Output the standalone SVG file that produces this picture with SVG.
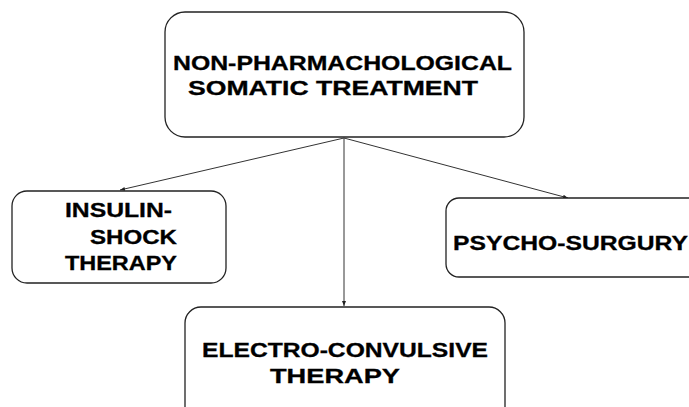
<svg xmlns="http://www.w3.org/2000/svg" width="689" height="407" viewBox="0 0 689 407">
<defs>
<style>
.box{fill:#fff;stroke:#222;stroke-width:1.3}
.lbl{font-family:"Liberation Sans",Arial,sans-serif;font-weight:bold;font-size:20px;fill:#000;stroke:#000;stroke-width:0.3}
.con{stroke:#333;stroke-width:1;fill:none;marker-end:url(#ah)}
</style>
<marker id="ah" markerWidth="6" markerHeight="6" refX="5" refY="3" orient="auto" markerUnits="userSpaceOnUse">
<path d="M0,1 L5,3 L0,5 Z" fill="#222"/>
</marker>
</defs>
<rect width="689" height="407" fill="#fff"/>
<g id="connectors">
<line class="con" x1="344" y1="138" x2="120" y2="190"/>
<line class="con" x1="344" y1="138" x2="568" y2="198"/>
<line class="con" x1="344" y1="138" x2="344" y2="306"/>
</g>
<g id="root">
<rect class="box" x="165" y="12" width="359" height="125" rx="20"/>
<text class="lbl" x="173" y="70" textLength="339" lengthAdjust="spacingAndGlyphs">NON-PHARMACHOLOGICAL</text>
<text class="lbl" x="188" y="95" textLength="290" lengthAdjust="spacingAndGlyphs">SOMATIC TREATMENT</text>
</g>
<g id="insulin">
<rect class="box" x="12" y="191" width="214" height="92" rx="15"/>
<text class="lbl" x="65" y="217" textLength="107" lengthAdjust="spacingAndGlyphs">INSULIN-</text>
<text class="lbl" x="90" y="244" textLength="87" lengthAdjust="spacingAndGlyphs">SHOCK</text>
<text class="lbl" x="65" y="270" textLength="112" lengthAdjust="spacingAndGlyphs">THERAPY</text>
</g>
<g id="psycho">
<rect class="box" x="446" y="198" width="270" height="79" rx="13"/>
<text class="lbl" x="453" y="250" textLength="235" lengthAdjust="spacingAndGlyphs">PSYCHO-SURGURY</text>
</g>
<g id="ect">
<rect class="box" x="185" y="307" width="320" height="130" rx="16"/>
<text class="lbl" x="202" y="357" textLength="286" lengthAdjust="spacingAndGlyphs">ELECTRO-CONVULSIVE</text>
<text class="lbl" x="270" y="383" textLength="130" lengthAdjust="spacingAndGlyphs">THERAPY</text>
</g>
</svg>
